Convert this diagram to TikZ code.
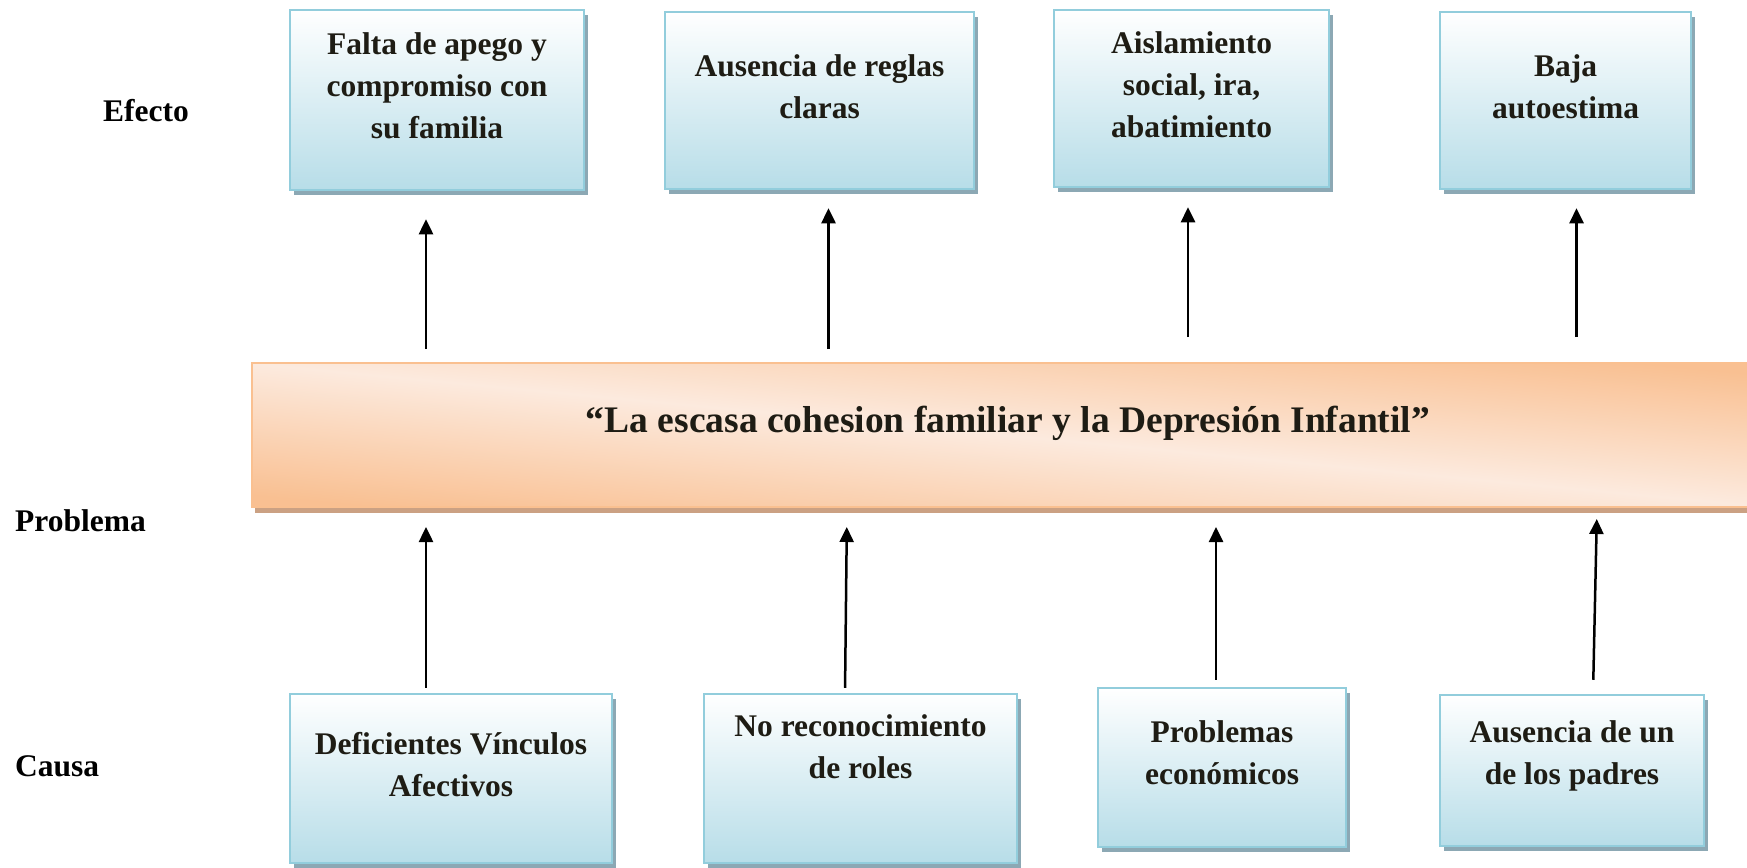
\documentclass[tikz,border=0pt]{standalone}
\usepackage{fontspec}
\setmainfont{Liberation Serif}
\usetikzlibrary{arrows.meta,shadows}

\definecolor{boxline}{RGB}{146,205,220}
\definecolor{boxblue}{RGB}{183,221,232}
\definecolor{boxshade}{RGB}{140,168,180}
\definecolor{barline}{RGB}{250,192,144}
\definecolor{barorange}{RGB}{249,192,146}
\definecolor{barlight}{RGB}{252,234,222}
\definecolor{barshade}{RGB}{203,161,131}
\definecolor{inktext}{RGB}{30,28,20}

\tikzset{
    bluebox/.style={draw=boxline, line width=2.5pt, inner sep=0pt,
        top color=white, bottom color=boxblue,
        drop shadow={shadow xshift=4pt, shadow yshift=-5pt, fill=boxshade, opacity=1}},
    problembar/.style={draw=barline, line width=2pt, inner sep=0pt,
        top color=barorange, bottom color=barorange, middle color=barlight, shading angle=-5.4,
        drop shadow={shadow xshift=3pt, shadow yshift=-6pt, fill=barshade, opacity=1}},
    boxtext/.style={align=center, inner sep=0pt, text=inktext, font=\bfseries\fontsize{31.5}{42}\selectfont},
    bartext/.style={inner sep=0pt, text=inktext, font=\bfseries\fontsize{37.5}{44}\selectfont},
    sidelabel/.style={anchor=west, inner sep=0pt, font=\bfseries\fontsize{31.5}{38}\selectfont},
    arrow/.style={line width=2.5pt, -{Triangle[length=15pt,width=14pt]}}
}

\begin{document}
\begin{tikzpicture}[x=1pt,y=-1pt]
    \path[use as bounding box, clip] (0,0) rectangle (1747,867);

    % efectos
    \node[bluebox, minimum width=294pt, minimum height=180pt] (e1) at (437,100) {};
    \node[boxtext] at ([yshift=14pt]e1.center) {Falta de apego y\\compromiso con\\su familia};
    \node[bluebox, minimum width=309pt, minimum height=177pt] (e2) at (819.5,100.5) {};
    \node[boxtext] at ([yshift=14pt]e2.center) {Ausencia de reglas\\claras};
    \node[bluebox, minimum width=275pt, minimum height=177pt] (e3) at (1191.5,98.5) {};
    \node[boxtext] at ([yshift=14pt]e3.center) {Aislamiento\\social, ira,\\abatimiento};
    \node[bluebox, minimum width=251pt, minimum height=177pt] (e4) at (1565.5,100.5) {};
    \node[boxtext] at ([yshift=14pt]e4.center) {Baja\\autoestima};

    % problema
    \node[problembar, minimum width=1512pt, minimum height=144pt] (bar) at (1008,435) {};
    \node[bartext] at ([yshift=12pt]bar.center) {“La escasa cohesion familiar y la Depresión Infantil”};

    % causas
    \node[bluebox, minimum width=322pt, minimum height=169pt] (c1) at (451,778.5) {};
    \node[boxtext] at ([yshift=13.5pt]c1.center) {Deficientes Vínculos\\Afectivos};
    \node[bluebox, minimum width=313pt, minimum height=169pt] (c2) at (860.5,778.5) {};
    \node[boxtext] at ([yshift=32pt]c2.center) {No reconocimiento\\de roles};
    \node[bluebox, minimum width=248pt, minimum height=159pt] (c3) at (1222,767.5) {};
    \node[boxtext] at ([yshift=14.5pt]c3.center) {Problemas\\económicos};
    \node[bluebox, minimum width=264pt, minimum height=151pt] (c4) at (1572,770.5) {};
    \node[boxtext] at ([yshift=14.5pt]c4.center) {Ausencia de un\\de los padres};

    \node[sidelabel] (efecto) at (103,111) {Efecto};
    \node[sidelabel] (problema) at (15,521) {Problema};
    \node[sidelabel] (causa) at (15,766) {Causa};

    \draw[arrow, shorten <=13pt, shorten >=28pt] ([xshift=-11pt]e1.south |- bar.north) -- ([xshift=-11pt]e1.south);
    \draw[arrow, shorten <=13pt, shorten >=18pt] ([xshift=9pt]e2.south |- bar.north) -- ([xshift=9pt]e2.south);
    \draw[arrow, shorten <=25pt, shorten >=19pt] ([xshift=-3.5pt]e3.south |- bar.north) -- ([xshift=-3.5pt]e3.south);
    \draw[arrow, shorten <=25pt, shorten >=18pt] ([xshift=11pt]e4.south |- bar.north) -- ([xshift=11pt]e4.south);

    \draw[arrow, shorten <=5pt, shorten >=19pt] ([xshift=-25pt]c1.north) -- ([xshift=-25pt]c1.north |- bar.south);
    \draw[arrow, shorten <=5pt, shorten >=19pt] ([xshift=-15.5pt]c2.north) -- ([xshift=-13.5pt]c2.north |- bar.south);
    \draw[arrow, shorten <=7pt, shorten >=19pt] ([xshift=-6pt]c3.north) -- ([xshift=-6pt]c3.north |- bar.south);
    \draw[arrow, shorten <=14pt, shorten >=11pt] ([xshift=21pt]c4.north) -- ([xshift=25pt]c4.north |- bar.south);
\end{tikzpicture}
\end{document}
